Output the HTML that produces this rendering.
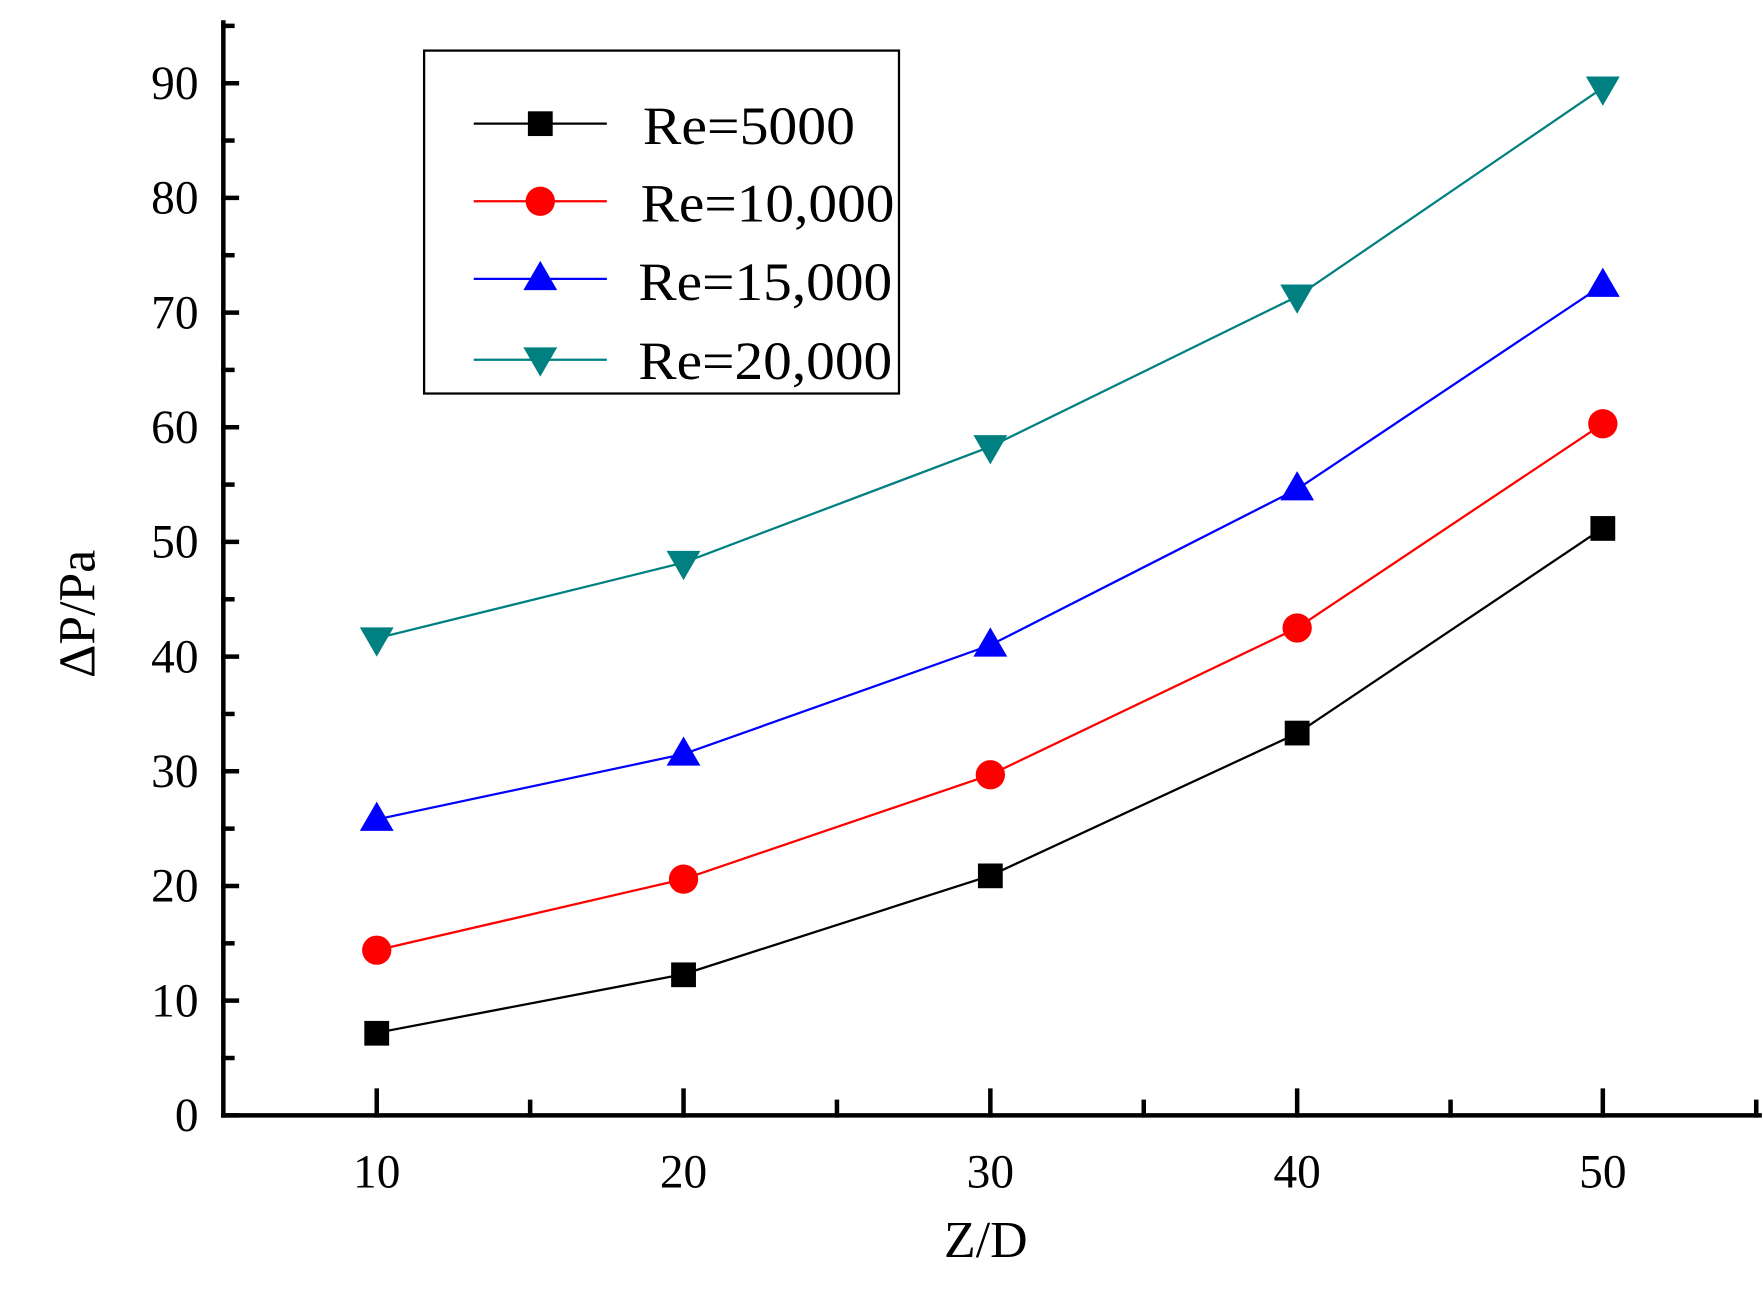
<!DOCTYPE html>
<html><head><style>html,body{margin:0;padding:0;background:#fff}svg{display:block}</style></head>
<body>
<svg width="1763" height="1293" viewBox="0 0 1563 1150" preserveAspectRatio="none" xmlns="http://www.w3.org/2000/svg" font-family="Liberation Serif, serif">
<g stroke="#000" stroke-width="4" fill="none" stroke-linecap="square">
<line x1="198" y1="20" x2="198" y2="992"/>
<line x1="198" y1="992" x2="1560" y2="992"/>
<line x1="198" y1="992" x2="210" y2="992"/><line x1="198" y1="941" x2="206" y2="941"/>
<line x1="198" y1="890" x2="210" y2="890"/><line x1="198" y1="839" x2="206" y2="839"/>
<line x1="198" y1="788" x2="210" y2="788"/><line x1="198" y1="737" x2="206" y2="737"/>
<line x1="198" y1="686" x2="210" y2="686"/><line x1="198" y1="635" x2="206" y2="635"/>
<line x1="198" y1="584" x2="210" y2="584"/><line x1="198" y1="533" x2="206" y2="533"/>
<line x1="198" y1="482" x2="210" y2="482"/><line x1="198" y1="431" x2="206" y2="431"/>
<line x1="198" y1="380" x2="210" y2="380"/><line x1="198" y1="329" x2="206" y2="329"/>
<line x1="198" y1="278" x2="210" y2="278"/><line x1="198" y1="227" x2="206" y2="227"/>
<line x1="198" y1="176" x2="210" y2="176"/><line x1="198" y1="125" x2="206" y2="125"/>
<line x1="198" y1="74" x2="210" y2="74"/><line x1="198" y1="23" x2="206" y2="23"/>
<line x1="334" y1="992" x2="334" y2="970"/><line x1="470" y1="992" x2="470" y2="980"/>
<line x1="606" y1="992" x2="606" y2="970"/><line x1="742" y1="992" x2="742" y2="980"/>
<line x1="878" y1="992" x2="878" y2="970"/><line x1="1014" y1="992" x2="1014" y2="980"/>
<line x1="1150" y1="992" x2="1150" y2="970"/><line x1="1286" y1="992" x2="1286" y2="980"/>
<line x1="1421" y1="992" x2="1421" y2="970"/><line x1="1557" y1="992" x2="1557" y2="980"/>
</g>
<g font-size="42" text-anchor="end" fill="#000">
<text x="176" y="1006">0</text><text x="176" y="904">10</text><text x="176" y="802">20</text>
<text x="176" y="700">30</text><text x="176" y="598">40</text><text x="176" y="496">50</text>
<text x="176" y="394">60</text><text x="176" y="292">70</text><text x="176" y="190">80</text>
<text x="176" y="88">90</text>
</g>
<g font-size="42" text-anchor="middle" fill="#000">
<text x="334" y="1056">10</text><text x="606" y="1056">20</text><text x="878" y="1056">30</text>
<text x="1150" y="1056">40</text><text x="1421" y="1056">50</text>
<text x="874" y="1118" font-size="46">Z/D</text>
<text transform="translate(84,546) rotate(-90)" font-size="46">ΔP/Pa</text>
</g>
<!-- series: y = 992 - v*10.2 -->
<polyline fill="none" stroke="#000" stroke-width="2" points="334,918.6 606,866.5 878,778.8 1150,652.3 1421,469.8"/>
<g fill="#000"><rect x="323" y="908" width="22" height="22"/><rect x="595" y="856" width="22" height="22"/><rect x="867" y="768" width="22" height="22"/><rect x="1139" y="641" width="22" height="22"/><rect x="1410" y="459" width="22" height="22"/></g>
<polyline fill="none" stroke="#f00" stroke-width="2" points="334,845.1 606,781.9 878,689.1 1150,558.5 1421,376.9"/>
<g fill="#f00"><circle cx="334" cy="845.1" r="13"/><circle cx="606" cy="781.9" r="13"/><circle cx="878" cy="689.1" r="13"/><circle cx="1150" cy="558.5" r="13"/><circle cx="1421" cy="376.9" r="13"/></g>
<polyline fill="none" stroke="#00f" stroke-width="2" points="334,728.8 606,670.7 878,573.8 1150,435.1 1421,253.5"/>
<g fill="#00f"><polygon points="334,713 349,739 319,739"/><polygon points="606,655 621,681 591,681"/><polygon points="878,558 893,584 863,584"/><polygon points="1150,419 1165,445 1135,445"/><polygon points="1421,238 1436,264 1406,264"/></g>
<polyline fill="none" stroke="#008080" stroke-width="2" points="334,567.7 606,500.4 878,397.3 1150,263.7 1421,78.1"/>
<g fill="#008080"><polygon points="319,558 349,558 334,584"/><polygon points="591,490 621,490 606,516"/><polygon points="863,387 893,387 878,413"/><polygon points="1135,253 1165,253 1150,279"/><polygon points="1406,68 1436,68 1421,94"/></g>
<!-- legend -->
<rect x="376" y="45" width="421" height="305" fill="#fff" stroke="#000" stroke-width="2"/>
<line x1="420" y1="110" x2="538" y2="110" stroke="#000" stroke-width="2"/>
<rect x="468" y="99" width="22" height="22" fill="#000"/>
<line x1="420" y1="179" x2="538" y2="179" stroke="#f00" stroke-width="2"/>
<circle cx="479" cy="179" r="13" fill="#f00"/>
<line x1="420" y1="248" x2="538" y2="248" stroke="#00f" stroke-width="2"/>
<polygon points="479,232 494,258 464,258" fill="#00f"/>
<line x1="420" y1="320" x2="538" y2="320" stroke="#008080" stroke-width="2"/>
<polygon points="464,309 494,309 479,335" fill="#008080"/>
<g font-size="48" fill="#000">
<text x="570" y="128" textLength="188" lengthAdjust="spacingAndGlyphs">Re=5000</text>
<text x="568" y="197" textLength="225" lengthAdjust="spacingAndGlyphs">Re=10,000</text>
<text x="566" y="267" textLength="225" lengthAdjust="spacingAndGlyphs">Re=15,000</text>
<text x="566" y="337" textLength="225" lengthAdjust="spacingAndGlyphs">Re=20,000</text>
</g>
</svg>
</body></html>
